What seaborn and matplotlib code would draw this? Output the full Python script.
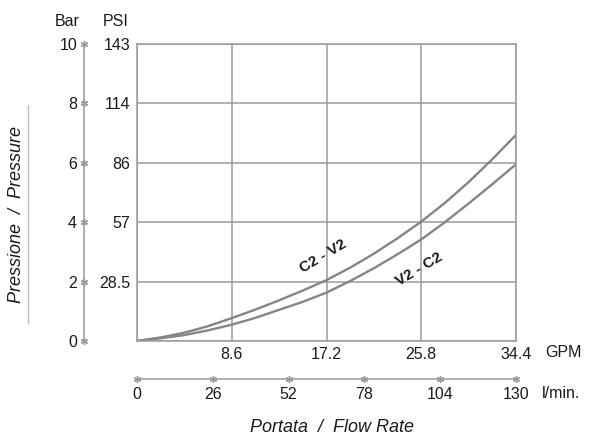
import matplotlib
matplotlib.use("Agg")
import matplotlib.pyplot as plt
from matplotlib.lines import Line2D
import seaborn as sns
import pandas as pd

# ---- data ----
gpm = [0, 2.15, 4.3, 6.45, 8.6, 10.75, 12.9, 15.05, 17.2,
       19.35, 21.5, 23.65, 25.8, 27.95, 30.1, 32.25, 34.4]
c2_v2 = [0, 0.12, 0.28, 0.50, 0.77, 1.06, 1.37, 1.70, 2.05,
         2.47, 2.94, 3.46, 4.02, 4.65, 5.35, 6.12, 6.94]
v2_c2 = [0, 0.09, 0.20, 0.36, 0.55, 0.78, 1.05, 1.32, 1.63,
         2.02, 2.45, 2.92, 3.42, 4.00, 4.63, 5.28, 5.95]

bar_ticks = [0, 2, 4, 6, 8, 10]
psi_labels = ["", "28.5", "57", "86", "114", "143"]
gpm_ticks = [0, 8.6, 17.2, 25.8, 34.4]
gpm_labels = ["", "8.6", "17.2", "25.8", "34.4"]
lmin_ticks = [0, 26, 52, 78, 104, 130]

sns.set_style("white")
plt.rcParams["font.family"] = ["Liberation Sans", "DejaVu Sans"]

GRID = "#9a9a9a"
CURVE = "#858585"
TXT = "#1a1a1a"
FS = 11.5

fig = plt.figure(figsize=(5.9, 4.36), dpi=100)
W, H = 590.0, 436.0

ax = fig.add_axes([137 / W, 1 - 341 / H, 379 / W, 297 / H])
df = pd.DataFrame({
    "gpm": gpm + gpm,
    "bar": c2_v2 + v2_c2,
    "curve": ["C2 - V2"] * len(gpm) + ["V2 - C2"] * len(gpm),
})
sns.lineplot(data=df, x="gpm", y="bar", hue="curve",
             palette=[CURVE, CURVE], linewidth=1.7, legend=False, ax=ax)
ax.set_xlim(0, 34.4)
ax.set_ylim(0, 10)
ax.set_xticks(gpm_ticks)
ax.set_xticklabels(gpm_labels)
ax.set_yticks(bar_ticks)
ax.set_yticklabels(psi_labels)
ax.set_xlabel("")
ax.set_ylabel("")
ax.grid(True, color=GRID, linewidth=1.1)
for s in ax.spines.values():
    s.set_color(GRID)
    s.set_linewidth(1.1)
ax.tick_params(axis="both", length=0, labelsize=FS, colors=TXT)
ax.tick_params(axis="x", pad=4)
ax.tick_params(axis="y", pad=5)

ax.text(16.9, 2.85, "C2 - V2", rotation=31, ha="center", va="center",
        fontsize=11, fontweight="bold", color=TXT, rotation_mode="anchor")
ax.text(25.6, 2.4, "V2 - C2", rotation=31, ha="center", va="center",
        fontsize=11, fontweight="bold", color=TXT, rotation_mode="anchor")

# ---- Bar scale (left) ----
axb = fig.add_axes([84 / W, 1 - 341 / H, 0.00001, 297 / H])
axb.set_ylim(0, 10)
axb.set_xlim(0, 1)
axb.plot([0] * len(bar_ticks), bar_ticks, linestyle="none",
         marker=(6, 2, 0), markersize=5, color=GRID, clip_on=False,
         markeredgewidth=1.0)
axb.set_yticks(bar_ticks)
axb.set_yticklabels([str(v) for v in bar_ticks])
axb.set_xticks([])
for k, s in axb.spines.items():
    s.set_visible(k == "left")
axb.spines["left"].set_color(GRID)
axb.spines["left"].set_linewidth(1.1)
axb.tick_params(axis="y", length=0, labelsize=FS, colors=TXT, pad=5)
axb.set_facecolor("none")

# ---- l/min scale (bottom) ----
axl = fig.add_axes([137 / W, 1 - 379 / H, 379 / W, 0.00001])
axl.set_xlim(0, 130)
axl.set_ylim(0, 1)
axl.plot(lmin_ticks, [0] * len(lmin_ticks), linestyle="none",
         marker=(6, 2, 0), markersize=5, color=GRID, clip_on=False,
         markeredgewidth=1.0)
axl.set_xticks(lmin_ticks)
axl.set_xticklabels([str(v) for v in lmin_ticks])
axl.set_yticks([])
for k, s in axl.spines.items():
    s.set_visible(k == "bottom")
axl.spines["bottom"].set_color(GRID)
axl.spines["bottom"].set_linewidth(1.1)
axl.tick_params(axis="x", length=0, labelsize=FS, colors=TXT, pad=6)
axl.set_facecolor("none")

# ---- headers / unit labels ----
fig.text(67 / W, 1 - 22 / H, "Bar", ha="center", va="center", fontsize=FS, color=TXT)
fig.text(116 / W, 1 - 22 / H, "PSI", ha="center", va="center", fontsize=FS, color=TXT)
fig.text(545 / W, 1 - 352 / H, "GPM", ha="left", va="center", fontsize=FS, color=TXT)
fig.text(542 / W, 1 - 393 / H, "l/min.", ha="left", va="center", fontsize=FS, color=TXT)

fig.text(332 / W, 1 - 427 / H, "Portata  /  Flow Rate", ha="center", va="center",
         fontsize=13, style="italic", color=TXT)
fig.text(17 / W, 1 - 214 / H, "Pressione  /  Pressure", ha="center", va="center",
         fontsize=13, style="italic", rotation=90, color=TXT)
fig.add_artist(Line2D([28 / W, 28 / W], [1 - 105 / H, 1 - 323 / H],
                      color="#c0c0c0", linewidth=1.0))

fig.savefig("out.png", dpi=100, facecolor="white")
